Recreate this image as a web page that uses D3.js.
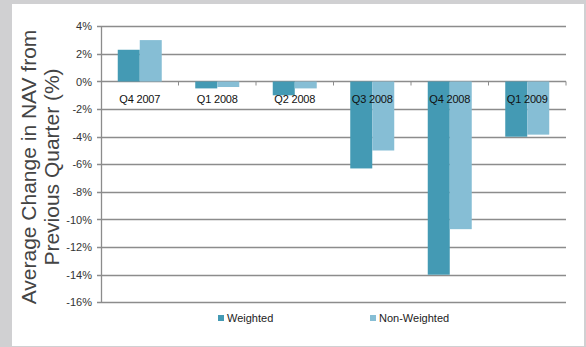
<!DOCTYPE html>
<html>
<head>
<meta charset="utf-8">
<script src="https://cdn.jsdelivr.net/npm/d3@7"></script>
<style>
  body { margin: 0; background: #d0d0d2; }
  svg { display: block; font-family: "Liberation Sans", Arial, sans-serif; }
</style>
</head>
<body>
<svg width="586" height="347"></svg>
<script>
// quarters and the two series (% change in NAV)
const quarters = ['Q4 2007', 'Q1 2008', 'Q2 2008', 'Q3 2008', 'Q4 2008', 'Q1 2009'];
const weighted = [2.3, -0.5, -1.0, -6.3, -14.0, -4.0];
const nonWeighted = [3.0, -0.4, -0.5, -5.0, -10.7, -3.85];
const seriesNames = ['Weighted', 'Non-Weighted'];
const seriesColors = ['#449ab4', '#86bed5'];
const yTicks = [4, 2, 0, -2, -4, -6, -8, -10, -12, -14, -16];

const svg = d3.select('svg');

// white panel
svg.append('rect')
    .attr('x', 12).attr('y', 4)
    .attr('width', 572).attr('height', 342)
    .attr('fill', '#fff');

const plot = { left: 101, right: 566, top: 26.3, bottom: 302.3 };

const x = d3.scaleBand()
    .domain(quarters)
    .range([plot.left, plot.right]);

const xInner = d3.scaleBand()
    .domain(seriesNames)
    .range([0, 44]);

const y = d3.scaleLinear()
    .domain([-16, 4])
    .range([plot.bottom, plot.top]);

// gridlines
svg.append('g')
    .selectAll('line')
    .data(yTicks)
    .join('line')
    .attr('x1', plot.left - 4)
    .attr('x2', plot.right)
    .attr('y1', d => Math.round(y(d)) + 0.5)
    .attr('y2', d => Math.round(y(d)) + 0.5)
    .attr('stroke', '#8c8c8c')
    .attr('stroke-width', 1.3);

// y tick labels
svg.append('g')
    .selectAll('text')
    .data(yTicks)
    .join('text')
    .attr('x', 92)
    .attr('y', d => y(d) + 4)
    .attr('text-anchor', 'end')
    .attr('font-size', 11)
    .attr('fill', '#333')
    .text(d => d + '%');

// bars
const rows = quarters.map((q, i) => ({ q, vals: [weighted[i], nonWeighted[i]] }));
const groups = svg.append('g')
    .selectAll('g')
    .data(rows)
    .join('g')
    .attr('transform', d => `translate(${x(d.q) + (x.bandwidth() - 44) / 2},0)`);

groups.selectAll('rect')
    .data(d => d.vals.map((v, k) => ({ v, k })))
    .join('rect')
    .attr('x', d => xInner(seriesNames[d.k]))
    .attr('width', xInner.bandwidth())
    .attr('y', d => y(Math.max(0, d.v)))
    .attr('height', d => Math.abs(y(d.v) - y(0)))
    .attr('fill', d => seriesColors[d.k]);

// y axis line
svg.append('line')
    .attr('x1', plot.left + 0.5).attr('x2', plot.left + 0.5)
    .attr('y1', plot.top).attr('y2', plot.bottom + 0.5)
    .attr('stroke', '#8c8c8c').attr('stroke-width', 1.3);

// zero line ticks between categories
svg.append('g')
    .selectAll('line')
    .data(quarters.slice(1).concat(['end']))
    .join('line')
    .attr('x1', (d, i) => plot.left + x.step() * (i + 1))
    .attr('x2', (d, i) => plot.left + x.step() * (i + 1))
    .attr('y1', y(0))
    .attr('y2', y(0) + 4)
    .attr('stroke', '#8c8c8c');

// category labels
svg.append('g')
    .selectAll('text')
    .data(quarters)
    .join('text')
    .attr('x', d => x(d) + x.bandwidth() / 2)
    .attr('y', 103)
    .attr('text-anchor', 'middle')
    .attr('font-size', 11)
    .attr('letter-spacing', -0.2)
    .attr('fill', '#111')
    .text(d => d);

// axis title
const title = svg.append('text')
    .attr('transform', 'translate(36,167) rotate(-90)')
    .attr('text-anchor', 'middle')
    .attr('font-size', 21)
    .attr('fill', '#444');
title.append('tspan').attr('x', 0).attr('dy', 0).text('Average Change in NAV from');
title.append('tspan').attr('x', 0).attr('dy', 23).text('Previous Quarter (%)');

// legend
const legendX = [218, 370];
const legend = svg.append('g')
    .selectAll('g')
    .data(seriesNames)
    .join('g')
    .attr('transform', (d, i) => `translate(${legendX[i]},315)`);
legend.append('rect')
    .attr('width', 6).attr('height', 6)
    .attr('fill', (d, i) => seriesColors[i]);
legend.append('text')
    .attr('x', 9).attr('y', 7)
    .attr('font-size', 11)
    .attr('fill', '#222')
    .text(d => d);
</script>
</body>
</html>
